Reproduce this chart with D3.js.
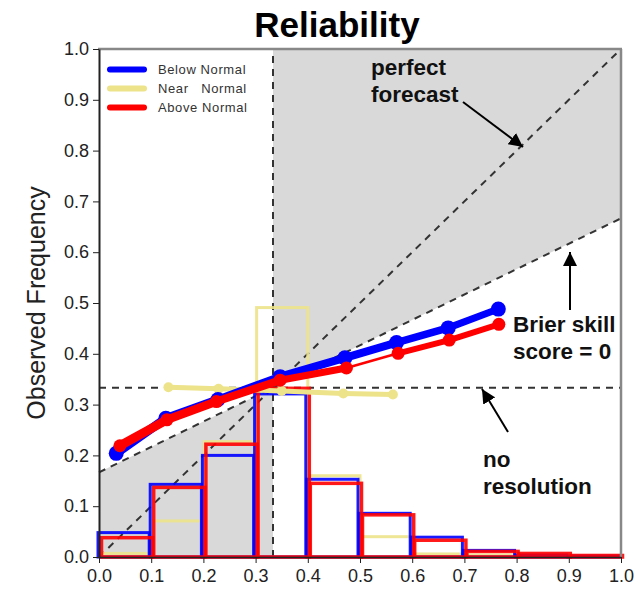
<!DOCTYPE html>
<html>
<head>
<meta charset="utf-8">
<script src="https://cdn.jsdelivr.net/npm/d3@7"></script>
<style>
  html, body { margin: 0; padding: 0; background: #fff; }
  svg { display: block; font-family: "Liberation Sans", Arial, sans-serif; }
</style>
</head>
<body>
<svg id="chart" width="641" height="597"></svg>
<script>
// ---------- data ----------
const ticks = [0.0, 0.1, 0.2, 0.3, 0.4, 0.5, 0.6, 0.7, 0.8, 0.9, 1.0];
const tickLabels = ["0.0","0.1","0.2","0.3","0.4","0.5","0.6","0.7","0.8","0.9","1.0"];
const climo = 1 / 3;
const binStarts = [0.0, 0.1, 0.2, 0.3, 0.4, 0.5, 0.6, 0.7, 0.8, 0.9];

const belowX = [0.033, 0.128, 0.228, 0.347, 0.471, 0.570, 0.669, 0.765];
const belowY = [0.204, 0.273, 0.310, 0.355, 0.392, 0.422, 0.451, 0.488];
const nearX  = [0.133, 0.229, 0.350, 0.468, 0.563];
const nearY  = [0.334, 0.331, 0.327, 0.322, 0.320];
const aboveX = [0.040, 0.130, 0.225, 0.347, 0.474, 0.573, 0.671, 0.766];
const aboveY = [0.219, 0.270, 0.306, 0.348, 0.372, 0.401, 0.427, 0.458];

const belowHist = [0.048, 0.143, 0.200, 0.321, 0.153, 0.086, 0.039, 0.013, 0.004, 0.002];
const nearHist  = [0.007, 0.071, 0.227, 0.491, 0.160, 0.040, 0.006, 0.004, 0.000, 0.000];
const aboveHist = [0.038, 0.137, 0.222, 0.332, 0.145, 0.083, 0.033, 0.011, 0.007, 0.003];

const seriesNames = ["Below Normal", "Near\u00a0\u00a0 Normal", "Above Normal"];

// ---------- styles ----------
const BLUE = "#0000ff", YEL = "#ede38a", RED = "#ff0000";
const svg = d3.select("#chart");
const x = d3.scaleLinear().domain([0, 1]).range([99, 621]);
const y = d3.scaleLinear().domain([0, 1]).range([557, 49]);

// ---------- shading ----------
const noSkill = v => (v + climo) / 2;
const shadeL = [[0, 0], [0, noSkill(0)], [climo, noSkill(climo)], [climo, 0]];
const shadeR = [[climo, noSkill(climo)], [1, noSkill(1)], [1, 1], [climo, 1]];
const poly = d3.line().x(d => x(d[0])).y(d => y(d[1]));
[shadeL, shadeR].forEach(p => {
  svg.append("path").attr("d", poly(p) + "Z").attr("fill", "#d9d9d9");
});

// ---------- dashed reference lines ----------
const refs = [
  [[0, 0], [1, 1]],
  [[0, noSkill(0)], [1, noSkill(1)]],
  [[climo, 0], [climo, 1]],
  [[0, climo], [1, climo]]
];
refs.forEach(r => {
  svg.append("path").attr("d", poly(r))
    .attr("stroke", "#333").attr("stroke-width", 2)
    .attr("stroke-dasharray", "7,6").attr("fill", "none");
});

// ---------- histograms ----------
function hist(vals, color, off, sw) {
  svg.append("g").selectAll("rect").data(vals.map((v, i) => ({ s: binStarts[i], v })))
    .join("rect")
    .attr("x", d => x(d.s) + off)
    .attr("y", d => y(d.v))
    .attr("width", d => x(d.s + 0.1) - x(d.s) - 1)
    .attr("height", d => y(0) - y(d.v))
    .attr("fill", "none")
    .attr("stroke", color)
    .attr("stroke-width", sw)
    .attr("stroke-opacity", 0.9);
}
hist(nearHist, YEL, 1, 3);
hist(belowHist, BLUE, -1, 3);
hist(aboveHist, RED, 2.5, 3.5);

// ---------- reliability curves ----------
function curve(xs, ys, color, widths, r) {
  const g = svg.append("g");
  for (let i = 0; i < xs.length - 1; i++) {
    g.append("line")
      .attr("x1", x(xs[i])).attr("y1", y(ys[i]))
      .attr("x2", x(xs[i + 1])).attr("y2", y(ys[i + 1]))
      .attr("stroke", color).attr("stroke-width", widths[i])
      .attr("stroke-linecap", "round");
  }
  g.selectAll("circle").data(xs.map((v, i) => [v, ys[i]])).join("circle")
    .attr("cx", d => x(d[0])).attr("cy", d => y(d[1])).attr("r", r)
    .attr("fill", color);
}
curve(nearX, nearY, YEL, [5, 5, 5, 5], 5);
curve(belowX, belowY, BLUE, [9, 8.5, 8, 8, 8, 7.5, 7], 7.5);
curve(aboveX, aboveY, RED, [9, 8.5, 8, 7, 2.5, 6, 6], 6.5);

// ---------- frame & axes ----------
svg.append("line").attr("x1", 98).attr("x2", 622).attr("y1", y(1)).attr("y2", y(1))
  .attr("stroke", "#888").attr("stroke-width", 2.5);
svg.append("line").attr("x1", x(1)).attr("x2", x(1)).attr("y1", y(1)).attr("y2", y(0))
  .attr("stroke", "#888").attr("stroke-width", 2.5);

const xAxis = d3.axisBottom(x).tickValues(ticks).tickFormat((d, i) => tickLabels[i])
  .tickSize(6).tickSizeOuter(0).tickPadding(6);
const gx = svg.append("g").attr("transform", `translate(0,${y(0)})`).call(xAxis);
gx.select(".domain").attr("stroke", "#222").attr("stroke-width", 1.5);
gx.selectAll(".tick line").attr("stroke", "#222");
gx.selectAll("text").attr("font-size", 18).attr("fill", "#222")
  .attr("font-family", "Liberation Sans, Arial, sans-serif");

const yAxis = d3.axisLeft(y).tickValues(ticks).tickFormat((d, i) => tickLabels[i])
  .tickSize(6).tickSizeOuter(0).tickPadding(4);
const gy = svg.append("g").attr("transform", `translate(${x(0)},0)`).call(yAxis);
gy.select(".domain").attr("stroke", "#222").attr("stroke-width", 2);
gy.selectAll(".tick line").attr("stroke", "#222");
gy.selectAll("text").attr("font-size", 18).attr("fill", "#222")
  .attr("font-family", "Liberation Sans, Arial, sans-serif");

// ---------- titles ----------
svg.append("text").attr("x", 337).attr("y", 37).attr("text-anchor", "middle")
  .attr("font-size", 35).attr("font-weight", "bold").attr("fill", "#000").text("Reliability");
svg.append("text").attr("transform", "translate(45,303) rotate(-90)")
  .attr("text-anchor", "middle").attr("font-size", 25).attr("fill", "#222")
  .text("Observed Frequency");

// ---------- legend ----------
const legColors = [BLUE, YEL, RED];
const legY = [69.5, 88.5, 107.5];
seriesNames.forEach((n, i) => {
  svg.append("line").attr("x1", 110).attr("x2", 144).attr("y1", legY[i]).attr("y2", legY[i])
    .attr("stroke", legColors[i]).attr("stroke-width", 6).attr("stroke-linecap", "round");
  svg.append("text").attr("x", 158).attr("y", legY[i] + 4.5)
    .attr("font-size", 13).attr("letter-spacing", 0.6).attr("fill", "#333")
    .style("white-space", "pre").text(n);
});

// ---------- annotations ----------
const defs = svg.append("defs");
defs.append("marker").attr("id", "ah").attr("viewBox", "0 0 10 10")
  .attr("refX", 10).attr("refY", 5).attr("markerWidth", 14).attr("markerHeight", 14)
  .attr("markerUnits", "userSpaceOnUse").attr("orient", "auto")
  .append("path").attr("d", "M0,0 L10,5 L0,10 Z").attr("fill", "#000");

function label(lines, x0, y0) {
  lines.forEach((t, i) => {
    svg.append("text").attr("x", x0).attr("y", y0 + i * 26.5)
      .attr("font-size", 22.5).attr("font-weight", "bold").attr("fill", "#111").text(t);
  });
}
function arrow(x1, y1, x2, y2) {
  svg.append("line").attr("x1", x1).attr("y1", y1).attr("x2", x2).attr("y2", y2)
    .attr("stroke", "#000").attr("stroke-width", 2).attr("marker-end", "url(#ah)");
}
label(["perfect", "forecast"], 371, 75);
arrow(463, 102, 523, 147);
label(["Brier skill", "score = 0"], 513, 332);
arrow(570, 310, 570, 252);
label(["no", "resolution"], 483, 467);
arrow(508, 432, 482, 389);
</script>
</body>
</html>
